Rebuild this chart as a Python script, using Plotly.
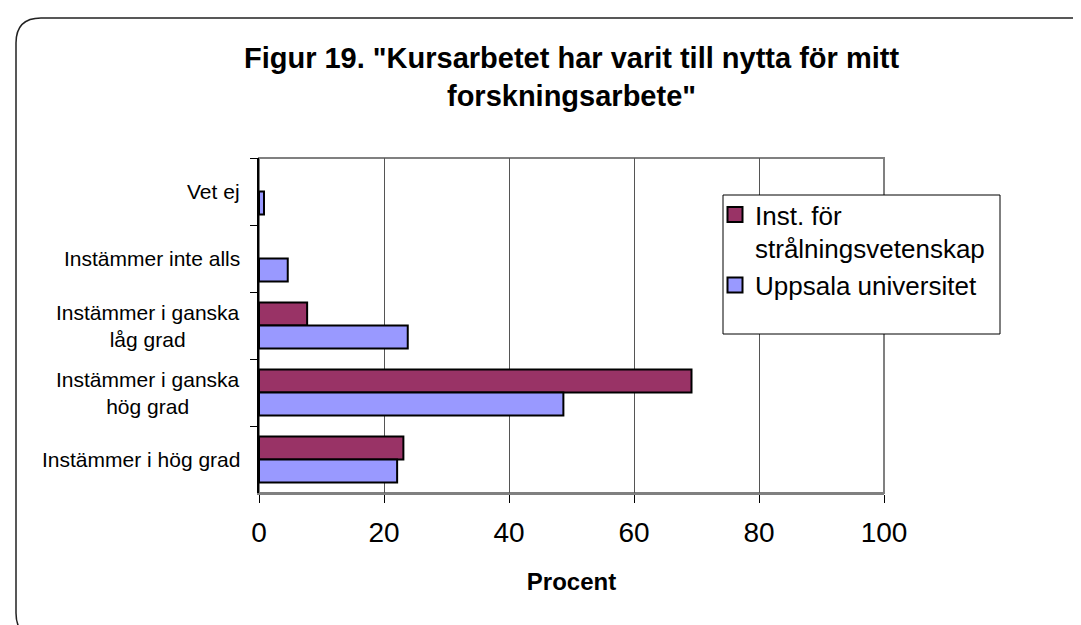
import plotly.graph_objects as go

categories = ["Vet ej", "Instämmer inte alls", "Instämmer i ganska<br>låg grad",
              "Instämmer i ganska<br>hög grad", "Instämmer i hög grad"]
series_names = ["Inst. för<br>strålningsvetenskap", "Uppsala universitet"]
inst_values = [None, None, 7.7, 69.2, 23.1]
uu_values = [0.8, 4.6, 23.8, 48.7, 22.1]
x_ticks = [0, 20, 40, 60, 80, 100]
colors = ["#993366", "#9999FF"]

W, H = 1081, 625
L, R, T, B = 251, 205, 150, 140
PW, PH = W - L - R, H - T - B
FONT = "Liberation Sans, Arial, sans-serif"


def px(xp):
    return (xp - L) / PW


def py(yp):
    return (H - B - yp) / PH


fig = go.Figure()
for name, vals, col in zip(series_names, [inst_values, uu_values], colors):
    fig.add_trace(go.Bar(
        y=categories, x=vals, name=name, orientation="h", showlegend=False,
        legendgroup=name,
        marker=dict(color=col, line=dict(color="black", width=2)),
    ))
# legend entries with larger square swatches
for name, col in zip(series_names, colors):
    fig.add_trace(go.Scatter(
        x=[None], y=[None], mode="markers", name=name, legendgroup=name,
        marker=dict(symbol="square", size=15, color=col,
                    line=dict(color="black", width=2)),
    ))

# outer rounded frame
x0, y0, x1, y1, r = 8, 10, 1090, 630, 25
path = (f"M {px(x0)},{py(y0 + r)} Q {px(x0)},{py(y0)} {px(x0 + r)},{py(y0)} "
        f"L {px(x1 - r)},{py(y0)} Q {px(x1)},{py(y0)} {px(x1)},{py(y0 + r)} "
        f"L {px(x1)},{py(y1 - r)} Q {px(x1)},{py(y1)} {px(x1 - r)},{py(y1)} "
        f"L {px(x0 + r)},{py(y1)} Q {px(x0)},{py(y1)} {px(x0)},{py(y1 - r)} Z")
shapes = [
    dict(type="path", xref="paper", yref="paper", path=path,
         line=dict(color="#222222", width=1.5), layer="below"),
    dict(type="rect", xref="paper", yref="paper", x0=0, x1=1, y0=0, y1=1,
         line=dict(color="#808080", width=2), layer="below"),
    dict(type="rect", xref="paper", yref="paper", x0=px(715), x1=px(992),
         y0=py(326), y1=py(187), line=dict(color="black", width=1),
         fillcolor="white", layer="above"),
]

annotations = [
    dict(xref="paper", yref="y", x=0, y=c, xanchor="right", xshift=-17,
         text=c, showarrow=False, align="center",
         font=dict(family=FONT, size=21, color="black"))
    for c in categories
]

fig.update_layout(
    width=W, height=H,
    margin=dict(l=L, r=R, t=T, b=B),
    paper_bgcolor="white", plot_bgcolor="white",
    barmode="group", bargap=0.31, bargroupgap=0,
    title=dict(text="<b>Figur 19. \"Kursarbetet har varit till nytta för mitt<br>forskningsarbete\"</b>",
               x=0.5, xref="paper", xanchor="center",
               y=1 - 60 / H, yref="container", yanchor="top",
               font=dict(family=FONT, size=29, color="black")),
    xaxis=dict(range=[0, 100], tickvals=x_ticks, showgrid=True,
               gridcolor="#555555", gridwidth=1, zeroline=False,
               showline=True, linecolor="#808080", linewidth=2,
               ticks="outside", ticklen=8, tickcolor="black",
               ticklabelstandoff=5,
               tickfont=dict(family=FONT, size=28, color="black"),
               title=dict(text="<b>Procent</b>", standoff=27,
                          font=dict(family=FONT, size=24, color="black"))),
    yaxis=dict(autorange="reversed", categoryorder="array", categoryarray=categories,
               showticklabels=False, showgrid=False, zeroline=False,
               showline=True, linecolor="black", linewidth=2,
               ticks="outside", ticklen=7, tickcolor="black", tickson="boundaries"),
    legend=dict(x=px(707), y=py(183), xanchor="left", yanchor="top",
                bgcolor="rgba(0,0,0,0)", borderwidth=0, valign="top",
                tracegroupgap=0,
                font=dict(family=FONT, size=26, color="black")),
    shapes=shapes,
    annotations=annotations,
    showlegend=True,
)

fig.write_html("out.html")
